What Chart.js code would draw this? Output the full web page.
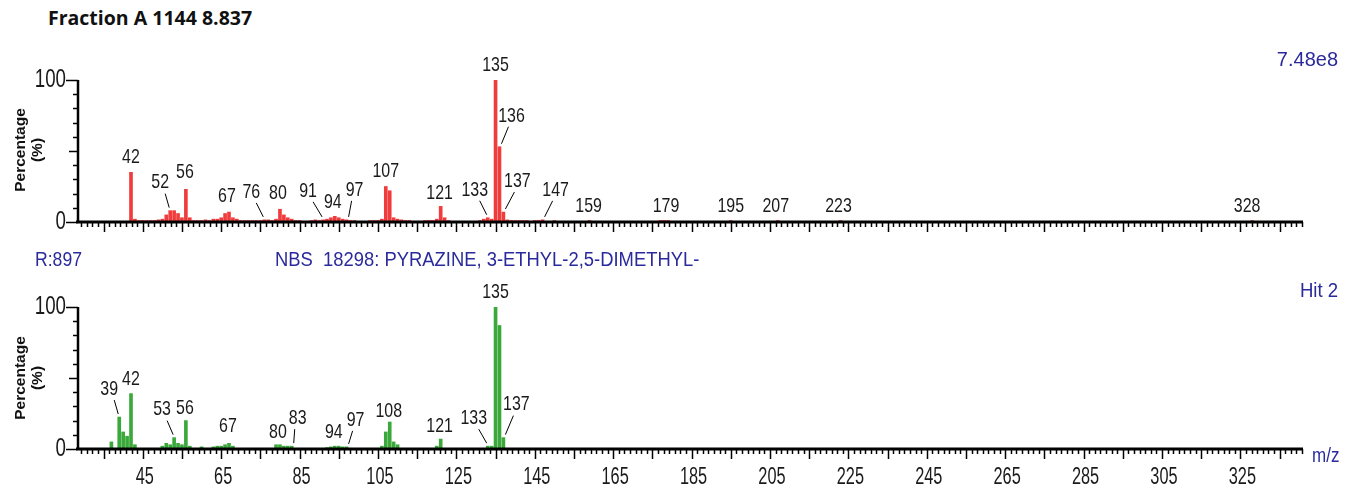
<!DOCTYPE html>
<html>
<head>
<meta charset="utf-8">
<script src="https://cdn.jsdelivr.net/npm/chart.js@4/dist/chart.umd.min.js"></script>
<style>
  html,body{margin:0;padding:0;background:#fff;}
  #wrap{position:relative;width:1353px;height:494px;overflow:hidden;background:#fff;}
  canvas{position:absolute;left:0;}
  .t{position:absolute;white-space:nowrap;line-height:1;font-family:"Liberation Sans",Arial,sans-serif;}
  .blue{color:#2a2a9c;font-size:20px;}
  .ylab{position:absolute;font-family:"Liberation Sans",Arial,sans-serif;font-weight:bold;font-size:15.5px;line-height:17px;text-align:center;transform:translate(-50%,-50%) rotate(-90deg);white-space:nowrap;color:#111;}
</style>
</head>
<body>
<div id="wrap">
  <div class="t" style="left:48px;top:8px;font-family:'Open Sans',sans-serif;font-weight:700;font-size:19.5px;color:#111;">Fraction A 1144 8.837</div>
  <canvas id="top" width="1353" height="245" style="top:0"></canvas>
  <canvas id="bot" width="1353" height="249" style="top:245px"></canvas>
  <div class="ylab" style="left:28px;top:150px;">Percentage<br>(%)</div>
  <div class="ylab" style="left:28px;top:378px;">Percentage<br>(%)</div>
  <div class="t blue" style="right:15px;top:49px;">7.48e8</div>
  <div class="t blue" style="left:35px;top:249px;transform:scaleX(0.88);transform-origin:left;">R:897</div>
  <div class="t blue" style="left:275px;top:249px;transform:scaleX(0.92);transform-origin:left;">NBS&nbsp; 18298: PYRAZINE, 3-ETHYL-2,5-DIMETHYL-</div>
  <div class="t blue" style="right:15px;top:280px;transform:scaleX(0.93);transform-origin:right;">Hit 2</div>
  <div class="t blue" style="left:1312px;top:445px;transform:scaleX(0.85);transform-origin:left;">m/z</div>
</div>
<script>
// ---------- DATA ----------
const topMz  = [42,43,44,45,46,47,48,49,50,51,52,53,54,55,56,57,58,59,60,61,62,63,64,65,66,67,68,69,70,71,72,73,74,75,76,77,78,79,80,81,82,83,84,85,88,89,90,91,92,93,94,95,96,97,98,99,103,104,105,106,107,108,109,110,111,112,113,117,118,119,120,121,122,123,131,132,133,134,135,136,137,138,139,140,141,142,143,145,146,147,150,159,177,178,179,195,207,223,328];
const topInt = [35,2,1,1,1,1,1,1.5,2,5,8,8,6,3,23,3,1,1,1,1.5,1,2,2,3,6,7,3,2,1,1,1,1,1,1,1.5,1.5,1,2,9,5,3,2,1,1,1,1.5,1,1.5,2,3,4,3,2,1.5,1,1,1,1,1,2,25,22,3,2,1.5,1,1,1,1,1,2,11,3,1,1,2,3,2,100,53,7,1.5,1,1,1,1,1,1,1,1.5,1,1,1,1,1,1,1,1,1];
const topLabels = [42,52,56,67,76,80,91,94,97,107,121,133,135,136,137,147,159,179,195,207,223,328];

const botMz  = [37,39,40,41,42,43,50,51,52,53,54,55,56,57,60,63,64,65,66,67,68,79,80,81,82,83,92,93,94,95,96,97,106,107,108,109,110,120,121,133,134,135,136,137];
const botInt = [5,22.5,12,9,39,3,2,4,3,8,4,3,20,2,1.5,1.5,2,2,3,4,2,3,3,2,2,2,1,1.5,2,2,1.5,1.5,2,12,19,5,3,2,7,2,2,100,87,8];
const botLabels = [39,42,53,56,67,80,83,94,97,108,121,133,135,137];

const xTickLabels = [45,65,85,105,125,145,165,185,205,225,245,265,285,305,325];
const yTickLabels = [0,100];

// ---------- STYLE (label placement offsets in px, leader flag) ----------
const topLabelStyle = {42:[0,-15,0],52:[-10,-28,1],56:[-1,-17,0],67:[-2,-16,0],76:[-13,-28,1],80:[-2,-16,0],91:[-15,-29,1],94:[-2,-14,0],97:[8,-30,1],107:[0,-15,0],121:[-1,-13,0],133:[-13,-28,1],135:[0,-15,0],136:[12,-31,1],137:[14,-31,1],147:[13,-30,1],159:[-1,-14,0],179:[-2,-14,0],195:[0,-14,0],207:[-2,-14,0],223:[-2,-14,0],328:[-5,-14,0]};
const botLabelStyle = {39:[-10,-28,1],42:[0,-14,0],53:[-12,-28,1],56:[-1,-12,0],67:[-1,-17,0],80:[-2,-13,0],83:[6,-28,1],94:[-1,-14,0],97:[9,-27,1],108:[-1,-11,0],121:[-1,-13,0],133:[-14,-28,1],135:[0,-15,0],137:[13,-33,1]};

const X_MIN = 28.48, X_MAX = 340.98;

function condensedText(ctx, txt, x, y, size, sx, align){
  ctx.save();
  ctx.translate(x, y);
  ctx.scale(sx, 1);
  ctx.font = size + 'px "Liberation Sans", Arial, sans-serif';
  ctx.textAlign = align || 'center';
  ctx.textBaseline = 'middle';
  ctx.fillText(txt, 0, 0);
  ctx.restore();
}

function makePlugin(mzArr, intArr, labels, labelStyle, showXLabels){
  return {
    id: 'msDecor',
    afterDatasetsDraw(chart){
      const {ctx, chartArea:a, scales:{x, y}} = chart;
      const line = (x1,y1,x2,y2)=>{ctx.beginPath();ctx.moveTo(x1,y1);ctx.lineTo(x2,y2);ctx.stroke();};
      ctx.save();
      ctx.strokeStyle = '#000';
      ctx.fillStyle = '#1a1a1a';
      // y axis
      ctx.lineWidth = 2.5;
      line(a.left, a.top, a.left, a.bottom);
      ctx.lineWidth = 1.5;
      for (let v = 0; v <= 100; v += 10){
        const py = Math.round(y.getPixelForValue(v)) + 0.5;
        const len = (v === 0 || v === 100) ? 12 : (v === 50 ? 9 : 5);
        line(a.left - len, py, a.left, py);
      }
      yTickLabels.forEach(v => {
        const py = y.getPixelForValue(v);
        condensedText(ctx, String(v), a.left - 12, py, 26, 0.72, 'right');
      });
      // x axis
      ctx.lineWidth = 3;
      line(a.left - 2, a.bottom, a.right, a.bottom);
      ctx.lineWidth = 1.5;
      const minorStep = 10/7;
      for (let v = 35 - 10; v <= X_MAX; v += 10){
        for (let k = 0; k < 7; k++){
          const val = v + k*minorStep;
          if (val < X_MIN || val > X_MAX) continue;
          const px = Math.round(x.getPixelForValue(val)) + 0.5;
          const len = k === 0 ? 10 : 5;
          line(px, a.bottom, px, a.bottom + len);
        }
      }
      if (showXLabels){
        xTickLabels.forEach(v => {
          const px = x.getPixelForValue(v);
          condensedText(ctx, String(v), px + 2, a.bottom + 28, 24, 0.68, 'center');
        });
      }
      // peak labels
      ctx.lineWidth = 1;
      labels.forEach(m => {
        const i = mzArr.indexOf(m);
        const val = i >= 0 ? intArr[i] : 0;
        const px = x.getPixelForValue(m);
        const top = y.getPixelForValue(val);
        const st = labelStyle[m] || [0,-14,0];
        const lx = px + st[0], ly = top + st[1];
        condensedText(ctx, String(m), lx, ly, 21, 0.76, 'center');
        if (st[2]){
          const sx = lx + (st[0] > 0 ? -3 : 5);
          const sy = ly + 11;
          const ex = px + (st[0] > 0 ? 2 : -1);
          const ey = top - 3;
          line(sx, sy, ex, ey);
        }
      });
      ctx.restore();
    }
  };
}

function makeChart(id, mzArr, intArr, color, labels, labelStyle, pad, showXLabels){
  return new Chart(document.getElementById(id), {
    type: 'bar',
    data: {
      datasets: [{
        data: mzArr.map((m,i)=>({x:m, y:intArr[i]})),
        backgroundColor: color,
        borderWidth: 0,
        barThickness: 3
      }]
    },
    options: {
      responsive: false,
      animation: false,
      devicePixelRatio: 1,
      layout: { padding: pad },
      scales: {
        x: { type:'linear', min:X_MIN, max:X_MAX, display:false, offset:false },
        y: { min:0, max:100, display:false }
      },
      plugins: { legend:{display:false}, tooltip:{enabled:false} }
    },
    plugins: [makePlugin(mzArr, intArr, labels, labelStyle, showXLabels)]
  });
}

makeChart('top', topMz, topInt, '#f03c3c', topLabels, topLabelStyle, {left:78, right:50, top:80, bottom:23}, false);
makeChart('bot', botMz, botInt, '#3aa83a', botLabels, botLabelStyle, {left:78, right:50, top:62, bottom:45}, true);
</script>
</body>
</html>
